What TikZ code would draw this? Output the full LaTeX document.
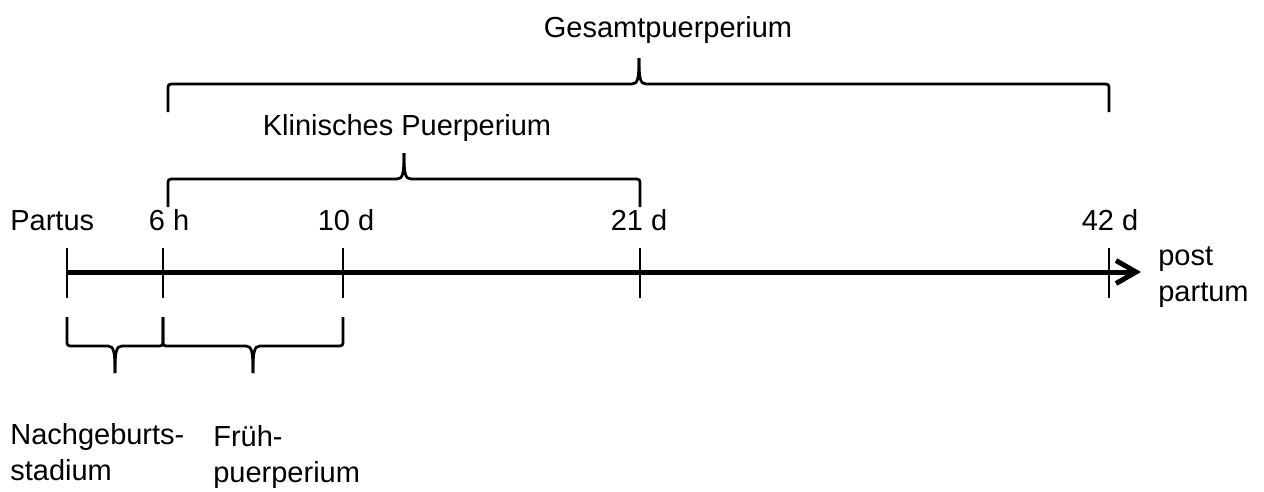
\documentclass[tikz,border=0pt]{standalone}
\usepackage{fontspec}
\setmainfont{Liberation Sans}
\usepackage{tikz}
\usetikzlibrary{arrows.meta, positioning}

% geschweifte Klammer: x links, x rechts, x Spitze, y waagrecht, y Enden, y Spitze, Rundung
\newcommand{\klammerpfad}[7]{%
  \draw[klammer] (#1,#5) -- (#1,#4+#7) .. controls (#1,#4) .. (#1+7,#4)
    -- (#3-7,#4) .. controls (#3-1,#4) and (#3,#4-#7) .. (#3,#6);
  \draw[klammer] (#2,#5) -- (#2,#4+#7) .. controls (#2,#4) .. (#2-7,#4)
    -- (#3+7,#4) .. controls (#3+1,#4) and (#3,#4-#7) .. (#3,#6);
}

\begin{document}
\begin{tikzpicture}[
    x=0.02cm, y=-0.02cm,
    every node/.style={font=\fontsize{16.5}{20}\selectfont, inner sep=0pt},
    achse/.style={line width=0.1cm, -{Straight Barb[length=0.4cm, width=0.46cm]}},
    strich/.style={line width=0.055cm},
    klammer/.style={line width=0.055cm, line join=round}
]
\useasboundingbox (0,0) rectangle (1264,491);

% Zeitachse
\coordinate (partus) at (67,272);
\coordinate (h6) at (163,272);
\coordinate (d10) at (343,272);
\coordinate (d21) at (640,272);
\coordinate (d42) at (1109,272);
\coordinate (ende) at (1141,272);
\draw[achse] (partus) -- (ende);
\foreach \p in {partus, h6, d10, d21, d42}
  \draw[strich] (\p) ++(0,-24) -- ++(0,50);

% Beschriftung der Achse
\node[anchor=base west] (tpartus) at (10,230) {Partus};
\node[anchor=base] (th6) at (169,230) {6 h};
\node[anchor=base] (td10) at (346,230) {10 d};
\node[anchor=base] (td21) at (639,230) {21 d};
\node[anchor=base] (td42) at (1110,230) {42 d};
\node[anchor=base west, align=left] (tpp) at (1158,301) {post\\partum};

% Klammern oben
\klammerpfad{168}{1109}{639}{84}{112}{58}{6}
\klammerpfad{168}{640}{404}{179}{207}{153}{6}
\node[anchor=base] (gesamt) at (668,37) {Gesamtpuerperium};
\node[anchor=base] (klinisch) at (407,135) {Klinisches Puerperium};

% Klammern unten
\klammerpfad{67}{163}{115}{346}{317}{373}{-6}
\klammerpfad{163}{343}{253}{346}{317}{373}{-6}
\node[anchor=base west, align=left] (nachgeburt) at (10,480) {Nachgeburts-\\stadium};
\node[anchor=base west, align=left] (frueh) at (213,482) {Früh-\\puerperium};

\end{tikzpicture}
\end{document}
